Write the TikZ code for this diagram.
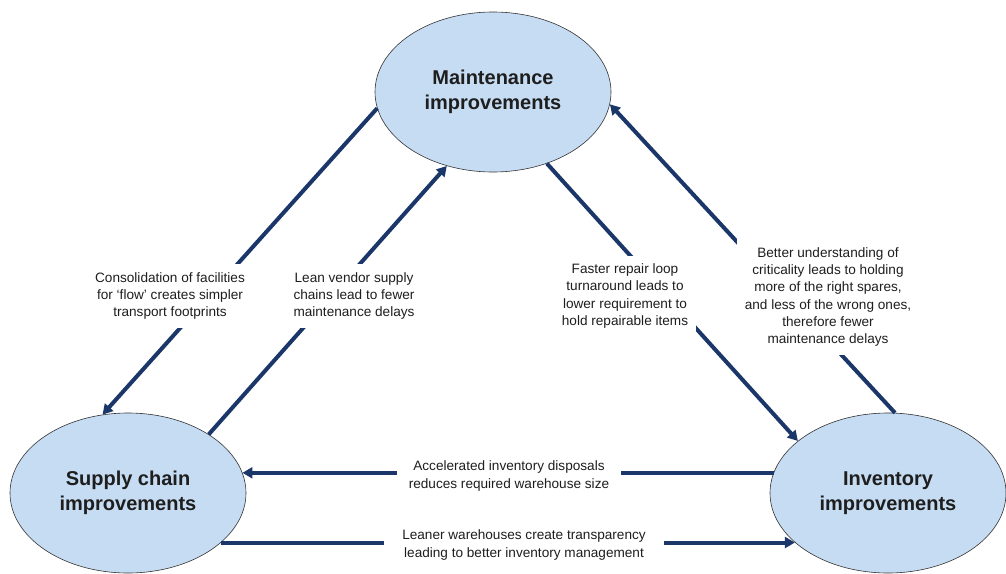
\documentclass[tikz,border=0pt]{standalone}
\usepackage{fontspec}
\setmainfont{Liberation Sans}
\usetikzlibrary{shapes.geometric,arrows.meta}
\definecolor{navy}{HTML}{1B3668}
\definecolor{bubblefill}{HTML}{C6DCF3}
\definecolor{ink}{HTML}{1E1E1E}
\begin{document}
\begin{tikzpicture}[x=1pt,y=-1pt,
  bubble/.style={ellipse, draw=black!80, line width=0.6pt, fill=bubblefill,
    minimum width=236pt, minimum height=160pt, inner sep=0pt, align=center,
    text=ink, font=\fontsize{20}{25}\selectfont\bfseries},
  flow/.style={draw=navy, line width=4pt, -{Triangle[length=10pt,width=11pt]}},
  note/.style={fill=white, inner sep=8pt, align=center, text=ink,
    font=\fontsize{13.6}{17.3}\selectfont}]
\useasboundingbox (0,0) rectangle (1006,573);
\node[bubble] (M) at (493,92) {Maintenance\\improvements};
\node[bubble] (S) at (128,493) {Supply chain\\improvements};
\node[bubble] (I) at (888,493) {Inventory\\improvements};

\draw[flow] (M.188) -- (S.108);
\draw[flow] (S.36) -- (M.238);
\draw[flow] (M.307) -- (I.150);
\draw[flow] (I.85) -- (M.354);
\draw[flow] (I.170) -- (S.10 |- I.170);
\draw[flow] (S.332) -- (I.208 |- S.332);

\node[note] (L1) at (170,296) {Consolidation of facilities\\for `flow' creates simpler\\transport footprints};
\node[note] (L2) at (354,296) {Lean vendor supply\\chains lead to fewer\\maintenance delays};
\node[note] (L3) at (625,296) {Faster repair loop\\turnaround leads to\\lower requirement to\\hold repairable items};
\node[note] (L4) at (828,297) {Better understanding of\\criticality leads to holding\\more of the right spares,\\and less of the wrong ones,\\therefore fewer\\maintenance delays};
\node[note, inner xsep=12pt] (L5) at (509,476) {Accelerated inventory disposals\\reduces required warehouse size};
\node[note, inner xsep=18pt] (L6) at (524,545) {Leaner warehouses create transparency\\leading to better inventory management};
\end{tikzpicture}
\end{document}
